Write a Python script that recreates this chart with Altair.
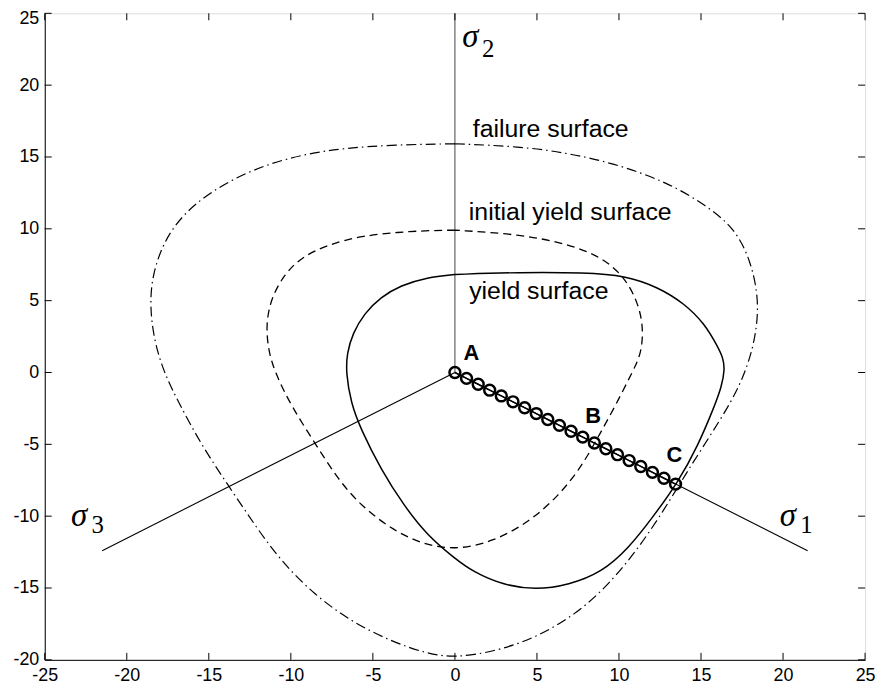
import altair as alt
import pandas as pd

# ---------------- data ----------------
x_ticks = [-25, -20, -15, -10, -5, 0, 5, 10, 15, 20, 25]
y_ticks = [-20, -15, -10, -5, 0, 5, 10, 15, 20, 25]

# failure surface (dash-dot), closed
fail_x = [0.0, -3.71, -6.74, -9.16, -11.58, -13.8, -15.82, -17.23, -18.04, -18.48, -18.58, -18.34,
          -17.74, -16.83, -15.42, -13.8, -12.19, -10.57, -8.55, -6.34, -3.92, -1.69, 0.0, 2.5, 4.92,
          7.34, 9.36, 11.18, 12.79, 14.0, 15.5, 16.85, 17.75, 18.34, 18.54, 18.04, 17.03, 15.21, 13.0,
          9.97, 6.94, 3.92, 0.0]
fail_y = [15.92, 15.85, 15.62, 15.2, 14.45, 13.32, 11.82, 10.09, 8.25, 6.41, 4.56, 2.26,
          0.0, -2.11, -5.11, -7.88, -10.64, -13.17, -15.48, -17.32, -18.7, -19.58, -19.86, -19.4, -18.47,
          -16.86, -14.79, -12.25, -9.49, -7.19, -4.5, -2.05, 0.1, 2.49, 5.02, 7.79, 10.09, 11.71, 13.2,
          14.47, 15.27, 15.74, 15.92]

# initial yield surface (dashed), closed
init_x = [0.0, -2.7, -5.73, -7.75, -9.36, -10.37, -11.18, -11.52, -11.38, -10.97, -9.97, -8.55,
          -7.14, -5.73, -3.92, -2.1, 0.0, 2.3, 4.52, 6.34, 7.75, 8.76, 9.77, 10.8, 11.38, 11.48,
          11.18, 10.37, 8.96, 6.94, 3.92, 0.0]
init_y = [9.91, 9.85, 9.52, 8.89, 8.02, 6.87, 5.25, 3.41, 1.57, 0.0, -2.35, -4.88,
          -7.42, -9.26, -10.87, -11.91, -12.37, -11.79, -10.41, -8.57, -6.5, -4.42, -2.35, 0.0, 1.34, 3.18,
          4.79, 6.63, 8.02, 8.94, 9.63, 9.91]

# yield surface (solid), closed
yield_x = [0.0, -1.69, -3.31, -4.52, -5.53, -6.23, -6.58, -6.64, -6.34, -5.73, -4.52, -3.11,
           -1.69, 0.0, 1.09, 2.91, 4.92, 6.94, 8.96, 10.57, 11.99, 13.6, 14.81, 15.82, 16.25, 16.45,
           16.35, 16.02, 15.21, 14.0, 12.39, 10.37, 7.95, 3.92, 0.0]
yield_y = [6.82, 6.63, 6.06, 5.25, 4.1, 2.72, 1.34, 0.0, -2.11, -3.96, -6.72, -9.26,
           -11.33, -12.95, -13.86, -14.79, -15.13, -14.79, -13.9, -12.25, -10.18, -7.64, -5.11, -2.35, -1.0, 0.2,
           1.0, 1.8, 3.41, 4.79, 5.94, 6.75, 6.95, 6.98, 6.82]

# stress path A -> C (circles)
path_x = [0.00, 0.71, 1.42, 2.12, 2.83, 3.54, 4.25, 4.96, 5.66, 6.37, 7.08, 7.79, 8.50, 9.20,
          9.91, 10.62, 11.33, 12.04, 12.74, 13.45]
path_y = [0.00, -0.41, -0.82, -1.23, -1.63, -2.04, -2.45, -2.86, -3.27, -3.68, -4.09, -4.50,
          -4.91, -5.31, -5.72, -6.13, -6.54, -6.95, -7.36, -7.77]

# principal stress axes (from origin)
axis_names = ["s1", "s2", "s3"]
axis_end_x = [21.5, 0.0, -21.5]
axis_end_y = [-12.4, 25.0, -12.4]

# sigma labels
sig_x = [0.45, -23.4, 19.8]
sig_y = [22.65, -10.66, -10.66]
sub_text = ["2", "3", "1"]
sub_x = [1.65, -22.15, 21.05]
sub_y = [21.95, -11.2, -11.2]

# point letters
pt_text = ["A", "B", "C"]
pt_x = [0.53, 7.95, 12.89]
pt_y = [0.88, -3.5, -6.26]

# curve annotations
ann_text = ["failure surface", "initial yield surface", "yield surface"]
ann_x = [1.09, 0.85, 0.87]
ann_y = [16.38, 10.6, 5.15]

# ---------------- chart ----------------
W, H = 826, 651
xs = alt.Scale(domain=[-25, 25], nice=False, zero=False)
ys = alt.Scale(domain=[-20, 25], nice=False, zero=False)
common_axis = dict(ticks=False, grid=False, title=None, labelFlush=False,
                   domainColor="black", labelColor="black", labelExpr="datum.value + ''",
                   labelFont="Liberation Sans", labelFontSize=18)
xax = alt.Axis(values=x_ticks, labelPadding=7, **common_axis)
yax = alt.Axis(values=y_ticks, labelPadding=6,
               labelOffset={"condition": {"test": "datum.value == 25", "value": 5}, "value": 0},
               **common_axis)


def X(f):
    return alt.X(f, type="quantitative", scale=xs, axis=xax)


def Y(f):
    return alt.Y(f, type="quantitative", scale=ys, axis=yax)


def curve_df(xv, yv):
    return pd.DataFrame({"x": xv, "y": yv, "order": list(range(len(xv)))})


fail = alt.Chart(curve_df(fail_x, fail_y)).mark_line(
    color="black", strokeWidth=1.2, strokeDash=[10, 4, 1.5, 4], interpolate="basis"
).encode(x=X("x"), y=Y("y"), order="order:Q")

init = alt.Chart(curve_df(init_x, init_y)).mark_line(
    color="black", strokeWidth=1.3, strokeDash=[8, 5], interpolate="basis"
).encode(x=X("x"), y=Y("y"), order="order:Q")

yld = alt.Chart(curve_df(yield_x, yield_y)).mark_line(
    color="black", strokeWidth=1.5, interpolate="basis"
).encode(x=X("x"), y=Y("y"), order="order:Q")

axes_df = pd.DataFrame({"name": axis_names, "x0": [0.0] * 3, "y0": [0.0] * 3,
                        "x1": axis_end_x, "y1": axis_end_y})
axes_lines = alt.Chart(axes_df).mark_rule(strokeWidth=1.1).encode(
    x=X("x0"), y=Y("y0"), x2="x1:Q", y2="y1:Q",
    color=alt.Color("name:N", scale=alt.Scale(domain=axis_names, range=["black", "#555555", "black"]),
                    legend=None),
)

path_df = curve_df(path_x, path_y)
path_line = alt.Chart(path_df).mark_line(color="black", strokeWidth=1.5).encode(
    x=X("x"), y=Y("y"), order="order:Q")
path_pts = alt.Chart(path_df).mark_point(
    shape="circle", filled=False, color="black", size=120, strokeWidth=2.5, opacity=1
).encode(x=X("x"), y=Y("y"))

sig = alt.Chart(pd.DataFrame({"x": sig_x, "y": sig_y, "t": ["σ"] * 3})).mark_text(
    align="left", baseline="alphabetic", font="Liberation Serif", fontStyle="italic",
    fontSize=33, color="black"
).encode(x=X("x"), y=Y("y"), text="t:N")

sub = alt.Chart(pd.DataFrame({"x": sub_x, "y": sub_y, "t": sub_text})).mark_text(
    align="left", baseline="alphabetic", font="Liberation Serif", fontSize=25, color="black"
).encode(x=X("x"), y=Y("y"), text="t:N")

pts_lbl = alt.Chart(pd.DataFrame({"x": pt_x, "y": pt_y, "t": pt_text})).mark_text(
    align="left", baseline="alphabetic", font="Liberation Sans", fontWeight="bold",
    fontSize=22, color="black"
).encode(x=X("x"), y=Y("y"), text="t:N")

ann = alt.Chart(pd.DataFrame({"x": ann_x, "y": ann_y, "t": ann_text})).mark_text(
    align="left", baseline="alphabetic", font="Liberation Sans", fontSize=25, color="black"
).encode(x=X("x"), y=Y("y"), text="t:N")

# inward ticks on all four sides
xt = pd.DataFrame({"v": x_ticks})
yt = pd.DataFrame({"v": y_ticks})
tick_b = alt.Chart(xt).mark_rule(color="black", strokeWidth=1).encode(
    x=X("v"), y=alt.value(H), y2=alt.value(H - 7))
tick_t = alt.Chart(xt).mark_rule(color="black", strokeWidth=1).encode(
    x=X("v"), y=alt.value(0), y2=alt.value(7))
tick_l = alt.Chart(yt).mark_rule(color="black", strokeWidth=1).encode(
    y=Y("v"), x=alt.value(0), x2=alt.value(7))
tick_r = alt.Chart(yt).mark_rule(color="black", strokeWidth=1).encode(
    y=Y("v"), x=alt.value(W), x2=alt.value(W - 7))

chart = alt.layer(
    axes_lines, fail, init, yld, path_line, path_pts, sig, sub, pts_lbl, ann,
    tick_b, tick_t, tick_l, tick_r
).properties(
    width=W, height=H,
    autosize=alt.AutoSizeParams(type="none"),
    padding={"left": 37, "top": 3, "right": 10, "bottom": 26},
).configure_view(
    stroke="black", strokeWidth=1
).configure(background="white")

chart.save("out.html", embed_options={"renderer": "svg", "actions": False})
